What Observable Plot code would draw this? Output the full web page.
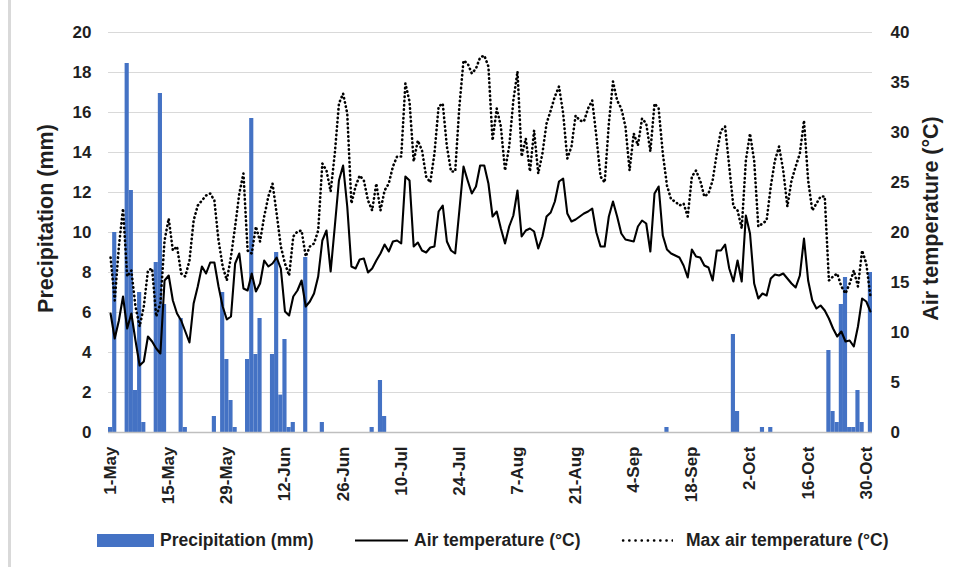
<!DOCTYPE html>
<html>
<head>
<meta charset="utf-8">
<script src="https://cdn.jsdelivr.net/npm/d3@7"></script>
<script src="https://cdn.jsdelivr.net/npm/@observablehq/plot@0.6"></script>
<style>
  html, body { margin: 0; padding: 0; background: #fff; }
  #wrap { position: relative; width: 956px; height: 567px; overflow: hidden; font-family: "Liberation Sans", Arial, sans-serif; }
  #wrap .border { position: absolute; left: 8px; top: 0; width: 3px; height: 567px; background: #d9d9d9; }
  #legend { position: absolute; left: 0; top: 520px; width: 956px; height: 47px; font-weight: bold; font-size: 17.5px; color: #1f1f1f; }
  #legend .item { position: absolute; top: 9px; display: flex; align-items: center; height: 22px; }
  #legend svg { margin-right: 6px; }
</style>
</head>
<body>
<div id="wrap">
  <div class="border"></div>
  <div id="chart"></div>
  <div id="legend"></div>
</div>
<script>
// Day index 0 = 1-May ... 183 = 31-Oct
const precipitation = [
  0.25, 10.0, 0, 0, 18.45, 12.1, 2.1, 7.0, 0.5, 0,
  0, 8.5, 16.95, 6.4, 0, 0, 0, 5.7, 0.25, 0,
  0, 0, 0, 0, 0, 0.8, 0, 7.0, 3.65, 1.6,
  0.25, 0, 0, 3.65, 15.7, 3.9, 5.7, 0, 0, 3.9,
  9.0, 1.87, 4.65, 0.25, 0.5, 0, 0, 8.75, 0, 0,
  0, 0.5, 0, 0, 0, 0, 0, 0, 0, 0,
  0, 0, 0, 0.25, 0, 2.6, 0.8, 0, 0, 0,
  0, 0, 0, 0, 0, 0, 0, 0, 0, 0,
  0, 0, 0, 0, 0, 0, 0, 0, 0, 0,
  0, 0, 0, 0, 0, 0, 0, 0, 0, 0,
  0, 0, 0, 0, 0, 0, 0, 0, 0, 0,
  0, 0, 0, 0, 0, 0, 0, 0, 0, 0,
  0, 0, 0, 0, 0, 0, 0, 0, 0, 0,
  0, 0, 0, 0, 0.25, 0, 0, 0, 0, 0,
  0, 0, 0, 0, 0, 0, 0, 0, 0, 0,
  4.9, 1.05, 0, 0, 0, 0, 0, 0.25, 0, 0.25,
  0, 0, 0, 0, 0, 0, 0, 0, 0, 0,
  0, 0, 0, 4.1, 1.05, 0.5, 6.4, 7.75, 0.25, 0.25,
  2.1, 0.5, 0, 8.0
];
const airTemperature = [
  11.9, 9.4, 11.2, 13.6, 10.4, 11.9, 9.2, 6.7, 7.1, 9.6,
  9.1, 8.4, 7.9, 15.2, 15.7, 13.2, 11.9, 11.2, 10.1, 9.0,
  12.9, 14.6, 16.6, 15.9, 17.0, 17.0, 14.6, 12.6, 11.3, 11.6,
  16.9, 17.9, 14.4, 14.2, 15.9, 14.1, 14.9, 17.2, 16.6, 16.9,
  17.5, 16.4, 12.1, 11.7, 13.6, 14.2, 15.2, 12.6, 13.1, 13.9,
  15.6, 19.2, 20.2, 16.1, 20.6, 25.2, 26.7, 22.6, 16.6, 16.4,
  17.3, 17.4, 16.0, 16.4, 17.2, 17.9, 18.8, 18.1, 19.1, 19.2,
  18.9, 25.6, 25.2, 18.6, 19.0, 18.2, 18.0, 18.5, 18.6, 22.1,
  22.7, 19.1, 18.2, 17.9, 22.2, 26.6, 25.2, 23.9, 24.6, 26.7,
  26.7, 24.9, 21.6, 22.1, 20.4, 18.9, 20.6, 21.7, 24.2, 19.6,
  20.2, 20.4, 20.1, 18.4, 19.6, 21.6, 22.0, 23.1, 25.1, 25.4,
  21.9, 21.1, 21.3, 21.6, 21.9, 22.1, 22.4, 20.0, 18.6, 18.6,
  21.6, 23.1, 21.6, 19.9, 19.3, 19.2, 19.1, 20.6, 21.2, 20.9,
  18.1, 23.9, 24.6, 19.7, 18.3, 17.9, 17.7, 17.5, 16.7, 15.5,
  18.3, 17.6, 17.5, 16.7, 16.5, 15.2, 18.2, 18.2, 18.8, 16.4,
  15.1, 17.2, 15.1, 21.7, 19.9, 14.9, 13.4, 13.9, 13.7, 15.4,
  15.8, 15.7, 15.9, 15.4, 14.9, 14.5, 15.7, 19.4, 15.2, 13.2,
  12.4, 12.7, 12.2, 11.4, 10.4, 9.6, 10.1, 9.1, 9.2, 8.6,
  10.6, 13.4, 13.1, 12.1
];
const maxAirTemperature = [
  17.5, 13.2, 18.6, 22.4, 15.6, 16.2, 12.6, 10.6, 12.6, 16.2,
  16.4, 11.6, 12.9, 19.2, 21.4, 18.2, 18.6, 15.9, 15.6, 17.2,
  21.2, 22.7, 23.2, 23.7, 23.9, 23.2, 19.2, 16.6, 15.2, 17.6,
  20.6, 23.9, 25.9, 18.2, 17.9, 20.6, 19.1, 21.6, 23.6, 24.9,
  21.9, 18.6, 16.9, 15.7, 19.6, 20.1, 20.2, 17.6, 18.6, 18.9,
  20.2, 26.9, 26.2, 24.1, 27.9, 32.9, 33.9, 31.9, 22.9, 24.6,
  25.7, 25.2, 23.2, 22.2, 24.9, 22.2, 24.2, 24.9, 26.6, 27.6,
  27.6, 34.9, 33.1, 27.1, 29.2, 28.2, 25.6, 25.0, 27.9, 32.6,
  32.9, 28.6, 26.1, 26.1, 32.6, 37.2, 36.9, 35.9, 36.4, 37.5,
  37.7, 36.6, 29.2, 32.4, 30.6, 26.2, 28.6, 33.2, 36.1, 27.6,
  29.4, 26.1, 30.2, 25.9, 27.9, 30.9, 32.2, 33.6, 34.6, 31.9,
  27.4, 28.6, 31.7, 31.2, 31.1, 32.4, 33.2, 29.6, 25.6, 25.0,
  30.9, 35.1, 33.2, 32.4, 30.6, 26.2, 29.9, 28.7, 31.4, 30.9,
  28.1, 32.9, 32.4, 27.9, 24.7, 23.3, 23.1, 22.7, 22.9, 21.6,
  25.6, 26.2, 25.2, 23.6, 23.9, 25.2, 27.9, 30.2, 30.6, 26.6,
  22.6, 22.2, 20.4, 27.2, 29.9, 27.2, 20.6, 20.9, 21.2, 24.6,
  27.2, 28.6, 26.2, 22.6, 25.2, 26.6, 27.9, 31.2, 25.2, 22.2,
  22.9, 23.6, 23.6, 15.2, 15.6, 15.9, 14.6, 13.9, 14.9, 16.2,
  14.6, 18.2, 16.9, 13.6
];
const tickDays = [0, 14, 28, 42, 56, 70, 84, 98, 112, 126, 140, 154, 168, 182];
const tickLabels = ["1-May", "15-May", "29-May", "12-Jun", "26-Jun", "10-Jul", "24-Jul", "7-Aug", "21-Aug", "4-Sep", "18-Sep", "2-Oct", "16-Oct", "30-Oct"];
const leftTicks = [0, 2, 4, 6, 8, 10, 12, 14, 16, 18, 20];
const rightTicks = [0, 5, 10, 15, 20, 25, 30, 35, 40];
const series = ["Precipitation (mm)", "Air temperature (°C)", "Max air temperature (°C)"];

const rows = precipitation.map((p, i) => ({
  day: i, precip: p, tair: airTemperature[i], tmax: maxAirTemperature[i]
}));
// right axis (°C) shares the plot's y scale: 40 °C ↔ 20 mm
const toLeft = t => t / 2;

const font = {fontSize: 17, fontWeight: "bold", fill: "#1f1f1f"};
const titleFont = {fontSize: 21.5, fontWeight: "bold", fill: "#1f1f1f", textAnchor: "middle", rotate: -90};

const chart = Plot.plot({
  width: 956,
  height: 520,
  marginLeft: 108,
  marginRight: 84,
  marginTop: 32,
  marginBottom: 88,
  style: {fontFamily: "'Liberation Sans', Arial, sans-serif", background: "transparent", overflow: "visible"},
  x: {type: "linear", domain: [-0.5, precipitation.length - 0.5]},
  y: {domain: [0, 20]},
  marks: [
    Plot.gridY(leftTicks, {stroke: "#d9d9d9", strokeOpacity: 1, strokeWidth: 1}),
    Plot.rectY(rows, {x1: d => d.day - 0.5, x2: d => d.day + 0.5, y: "precip", fill: "#4472C4", inset: 0}),
    Plot.ruleY([0], {stroke: "#bfbfbf", strokeWidth: 1.5}),
    Plot.line(rows, {x: "day", y: d => toLeft(d.tmax), stroke: "#000", strokeWidth: 2.6, strokeDasharray: "0.4,3.9", strokeLinecap: "round", strokeLinejoin: "round"}),
    Plot.line(rows, {x: "day", y: d => toLeft(d.tair), stroke: "#000", strokeWidth: 2.1, strokeLinejoin: "round"}),
    Plot.axisY(leftTicks, {anchor: "left", tickSize: 0, tickPadding: 17, label: null, ...font}),
    Plot.axisY(rightTicks.map(toLeft), {anchor: "right", tickSize: 0, tickPadding: 18, label: null, tickFormat: d => d * 2, ...font}),
    Plot.axisX(tickDays, {anchor: "bottom", tickSize: 0, tickPadding: 14, tickRotate: -90, label: null, tickFormat: d => tickLabels[tickDays.indexOf(d)], ...font}),
    Plot.text([series[0]], {frameAnchor: "left", dx: -62, dy: -14, ...titleFont}),
    Plot.text([series[1]], {frameAnchor: "right", dx: 59, dy: -14, ...titleFont})
  ]
});
document.getElementById("chart").appendChild(chart);

// legend
const legend = document.getElementById("legend");
const swatches = [
  {left: 97, w: 57, svg: '<rect x="0" y="4" width="57" height="13" fill="#4472C4"/>'},
  {left: 355, w: 53, svg: '<line x1="0" x2="53" y1="10.5" y2="10.5" stroke="#000" stroke-width="2"/>'},
  {left: 621, w: 52, svg: '<line x1="2" x2="52" y1="10.5" y2="10.5" stroke="#000" stroke-width="2.4" stroke-linecap="round" stroke-dasharray="0.3,5.9"/>'}
];
series.forEach((name, k) => {
  const s = swatches[k];
  const item = document.createElement("div");
  item.className = "item";
  item.style.left = s.left + "px";
  item.innerHTML = `<svg width="${s.w}" height="21">${s.svg}</svg><span>${name}</span>`;
  if (k === 2) item.querySelector("svg").style.marginRight = "13px";
  legend.appendChild(item);
});
</script>
</body>
</html>
